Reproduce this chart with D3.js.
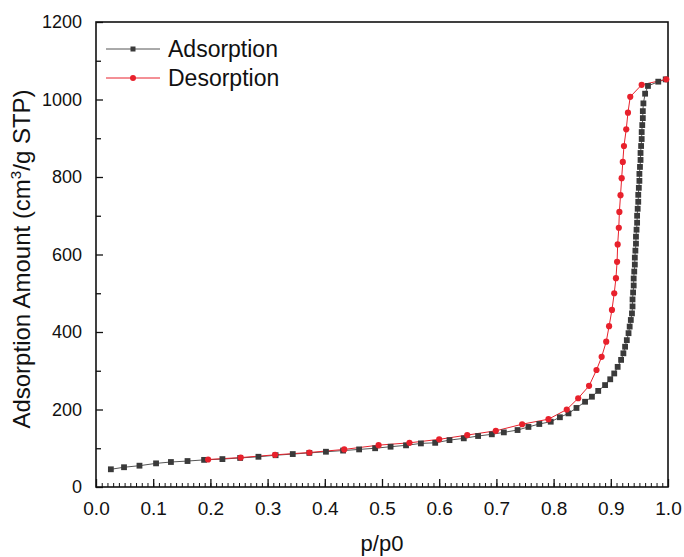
<!DOCTYPE html>
<html><head><meta charset="utf-8">
<script src="https://cdn.jsdelivr.net/npm/d3@7"></script>
<style>body{margin:0;background:#fff}svg{display:block}text{font-family:Arial,"Liberation Sans",sans-serif;fill:#111}</style>
</head><body>
<svg id="c" width="684" height="557"></svg>
<script>
const adsP = [0.026,0.049,0.076,0.105,0.131,0.160,0.189,0.221,0.252,0.284,0.314,0.344,0.373,0.402,0.432,0.460,0.488,0.515,0.542,0.568,0.593,0.618,0.643,0.668,0.692,0.713,0.737,0.756,0.775,0.795,0.811,0.826,0.840,0.855,0.867,0.878,0.890,0.899,0.906,0.912,0.918,0.922,0.925,0.928,0.931,0.933,0.935,0.937,0.938,0.938,0.939,0.940,0.940,0.941,0.942,0.942,0.943,0.944,0.944,0.945,0.946,0.946,0.947,0.948,0.948,0.949,0.950,0.950,0.951,0.952,0.952,0.953,0.954,0.954,0.955,0.956,0.956,0.957,0.960,0.965,0.983,0.996];
const adsV = [45.7,51,55,61,64.5,67,70,72,75,78,82,85,88,91,94,97,100,104,107.5,112.5,114,121,125.6,131.6,136,141,147,155,162.6,168.5,180,190,204,220,233,248,263,278,293,310,328,345,362,379,397,414,431,448,466,484,502,520,538,556,574,592,610,628,646,664,682,700,718,736,754,772,790,808,826,844,862,880,898,916,934,952,970,990,1015,1035,1046,1052];
const desP = [0.997,0.954,0.934,0.930,0.927,0.923,0.921,0.919,0.917,0.915,0.914,0.912,0.911,0.909,0.906,0.902,0.897,0.892,0.884,0.875,0.862,0.843,0.823,0.791,0.745,0.699,0.649,0.600,0.548,0.494,0.434,0.373,0.313,0.253,0.196];
const desV = [1052,1038,1007,966,923,880,839,797,753,710,669,626,581,539,500,457,415,375,336,302,261,229,200,175,162,145,134,123,114,108,97,89,83,76,71];
const xTicks = [0.0,0.1,0.2,0.3,0.4,0.5,0.6,0.7,0.8,0.9,1.0];
const yTicks = [0,200,400,600,800,1000,1200];
const seriesNames = ["Adsorption","Desorption"];

const svg = d3.select("#c");
const L=96,R=668,T=22,B=487;
const x = d3.scaleLinear().domain([0,1]).range([L,R]);
const y = d3.scaleLinear().domain([0,1200]).range([B,T]);
const ads = adsP.map((p,i)=>({p,v:adsV[i]}));
const des = desP.map((p,i)=>({p,v:desV[i]}));
const gray="#3a3a3a", red="#e8212c";

// axes
const xMinor = d3.range(0,101).map(d=>d/100);
svg.append("g").attr("transform",`translate(0,${B})`)
  .call(d3.axisBottom(x).tickValues(xMinor).tickSize(-4).tickFormat(""))
  .call(g=>{g.select(".domain").remove();g.selectAll("line").attr("stroke","#111").attr("stroke-width",1);});
svg.append("g").attr("transform",`translate(0,${B})`)
  .call(d3.axisBottom(x).tickValues(xTicks).tickSize(-8).tickFormat(d3.format(".1f")))
  .call(g=>{g.select(".domain").remove();g.selectAll("line").attr("stroke","#111").attr("stroke-width",1.3);
    g.selectAll("text").attr("font-size",19).attr("dy","0.71em").attr("y",15);});
svg.append("g").attr("transform",`translate(${L},0)`)
  .call(d3.axisLeft(y).tickValues(d3.range(100,1200,200)).tickSize(-5).tickFormat(""))
  .call(g=>{g.select(".domain").remove();g.selectAll("line").attr("stroke","#111").attr("stroke-width",1.3);});
svg.append("g").attr("transform",`translate(${L},0)`)
  .call(d3.axisLeft(y).tickValues(yTicks).tickSize(-7).tickPadding(14).tickFormat(d3.format("d")))
  .call(g=>{g.select(".domain").remove();g.selectAll("line").attr("stroke","#111").attr("stroke-width",1.3);
    g.selectAll("text").attr("font-size",18);});
svg.append("rect").attr("x",L).attr("y",T).attr("width",R-L).attr("height",B-T)
  .attr("fill","none").attr("stroke","#111").attr("stroke-width",1.6);

// lines
const line = d3.line().x(d=>x(d.p)).y(d=>y(d.v));
svg.append("path").datum(ads).attr("d",line).attr("fill","none").attr("stroke","#555").attr("stroke-width",1);
svg.append("path").datum(des).attr("d",line).attr("fill","none").attr("stroke",red).attr("stroke-width",1);
svg.append("g").selectAll("rect").data(ads).join("rect")
  .attr("x",d=>x(d.p)-2.9).attr("y",d=>y(d.v)-2.9).attr("width",5.8).attr("height",5.8).attr("fill",gray);
svg.append("g").selectAll("circle").data(des).join("circle")
  .attr("cx",d=>x(d.p)).attr("cy",d=>y(d.v)).attr("r",3.1).attr("fill",red);

// legend
const leg = svg.append("g");
[[gray,"#555",0],[red,red,1]].forEach(([c,lc,i])=>{
  const yy = 49 + i*29;
  leg.append("line").attr("x1",106).attr("x2",160).attr("y1",yy).attr("y2",yy).attr("stroke",lc).attr("stroke-width",1);
  if(i===0) leg.append("rect").attr("x",133-2.5).attr("y",yy-2.5).attr("width",5).attr("height",5).attr("fill",c);
  else leg.append("circle").attr("cx",133).attr("cy",yy).attr("r",3).attr("fill",c);
  leg.append("text").attr("x",168).attr("y",yy).attr("dy","0.35em").attr("font-size",23).text(seriesNames[i]);
});

// titles
svg.append("text").attr("x",(L+R)/2 - 0).attr("y",551).attr("text-anchor","middle").attr("font-size",22).text("p/p0");
const yt = svg.append("text").attr("transform","translate(30,259) rotate(-90)").attr("text-anchor","middle").attr("font-size",24);
yt.append("tspan").text("Adsorption Amount (cm");
yt.append("tspan").attr("font-size",15).attr("dy",-9).text("3");
yt.append("tspan").attr("dy",9).text("/g STP)");
</script>
</body></html>
